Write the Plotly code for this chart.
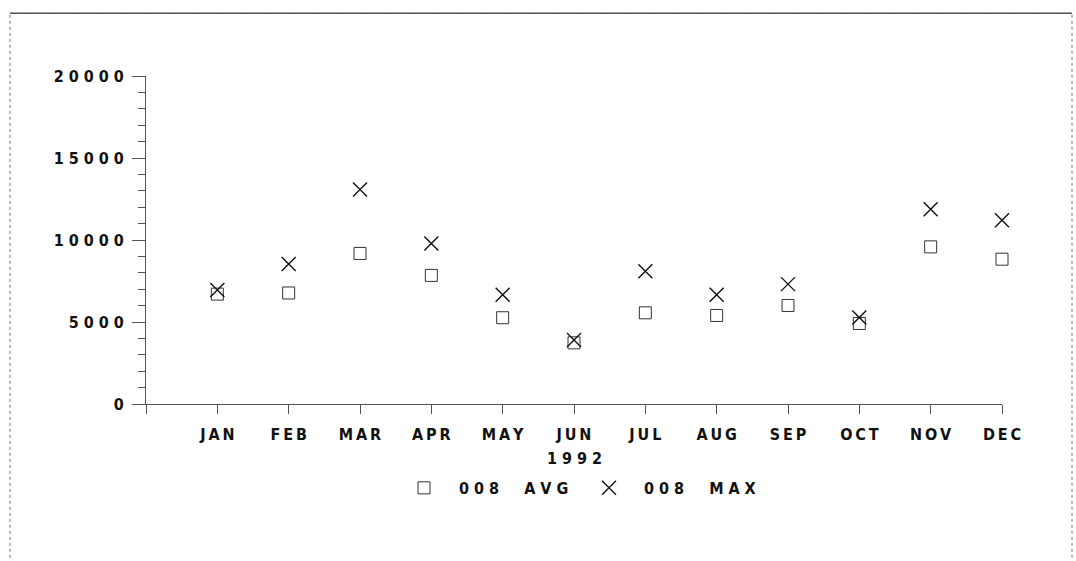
import plotly.graph_objects as go

months = ["JAN", "FEB", "MAR", "APR", "MAY", "JUN", "JUL", "AUG", "SEP", "OCT", "NOV", "DEC"]
avg_values = [6700, 6770, 9180, 7840, 5260, 3730, 5560, 5400, 6010, 4910, 9580, 8830]
max_values = [6950, 8540, 13080, 9790, 6660, 3900, 8100, 6660, 7310, 5280, 11880, 11210]
y_ticks = [0, 5000, 10000, 15000, 20000]
x_title = "1992"
avg_name = "008 AVG"
max_name = "008 MAX"

NB = "\u00a0"
TH = "\u2009"


def spaced(s, sep=NB):
    return sep.join(list(s.replace(" ", sep + sep)))


FONT = "Liberation Sans Narrow, DejaVu Sans Condensed, Liberation Sans, Arial, sans-serif"
xpos = list(range(1, len(months) + 1))

fig = go.Figure()
fig.add_trace(go.Scatter(
    x=xpos, y=avg_values, mode="markers", name=NB * 3 + spaced(avg_name), cliponaxis=False,
    marker=dict(symbol="square-open", size=12, color="#333333", line=dict(width=1, color="#333333")),
))
fig.add_trace(go.Scatter(
    x=xpos, y=max_values, mode="markers", name=NB * 3 + spaced(max_name), cliponaxis=False,
    marker=dict(symbol="x-thin-open", size=14, color="#111111", line=dict(width=1.4, color="#111111")),
))

L, R, T, B = 146, 74, 75.7, 157
W, H = 1076, 561
pw, ph = W - L - R, H - T - B


def px_x(px):
    return (px - L) / pw


def px_y(py):
    return (H - B - py) / ph


fig.update_layout(
    width=W, height=H,
    margin=dict(l=L, r=R, t=T, b=B, pad=0),
    paper_bgcolor="white", plot_bgcolor="white",
    font=dict(family=FONT, size=16, color="#111111", weight="bold"),
    showlegend=True,
    legend=dict(
        orientation="h", x=px_x(404), xanchor="left", y=px_y(488), yanchor="middle",
        entrywidth=140, entrywidthmode="pixels", font=dict(family=FONT, size=16, weight="bold"),
        bgcolor="rgba(0,0,0,0)", borderwidth=0,
    ),
    xaxis=dict(
        range=[0, 12], tickvals=[0] + xpos, ticktext=[""] + [spaced(m, TH) for m in months],
        ticks="outside", ticklen=9, tickcolor="#555555", tickwidth=1,
        showline=True, linecolor="#555555", linewidth=1, showgrid=False, zeroline=False,
        ticklabelstandoff=7, fixedrange=True,
    ),
    yaxis=dict(
        range=[0, 20000], tickvals=y_ticks, ticktext=[spaced(str(v)) for v in y_ticks],
        ticks="outside", ticklen=13, tickcolor="#555555", tickwidth=1,
        minor=dict(dtick=1000, ticks="outside", ticklen=7, tickcolor="#555555", tickwidth=1),
        showline=True, linecolor="#555555", linewidth=1, showgrid=False, zeroline=False,
        ticklabelstandoff=5, fixedrange=True,
    ),
    annotations=[dict(
        text=spaced(x_title), xref="paper", yref="paper", x=0.5, y=px_y(459),
        xanchor="center", yanchor="middle", showarrow=False,
        font=dict(family=FONT, size=16, weight="bold", color="#111111"),
    )],
    shapes=[
        dict(type="rect", xref="paper", yref="paper",
             x0=px_x(10), x1=px_x(1072), y0=px_y(600), y1=px_y(13),
             line=dict(color="#777777", width=1, dash="dot"), layer="below"),
        dict(type="line", xref="paper", yref="paper",
             x0=px_x(10), x1=px_x(1072), y0=px_y(13), y1=px_y(13),
             line=dict(color="#555555", width=1.5), layer="below"),
    ],
)

fig.write_html("out.html", config={"displayModeBar": False},
               post_script="document.body.style.margin='0';")
